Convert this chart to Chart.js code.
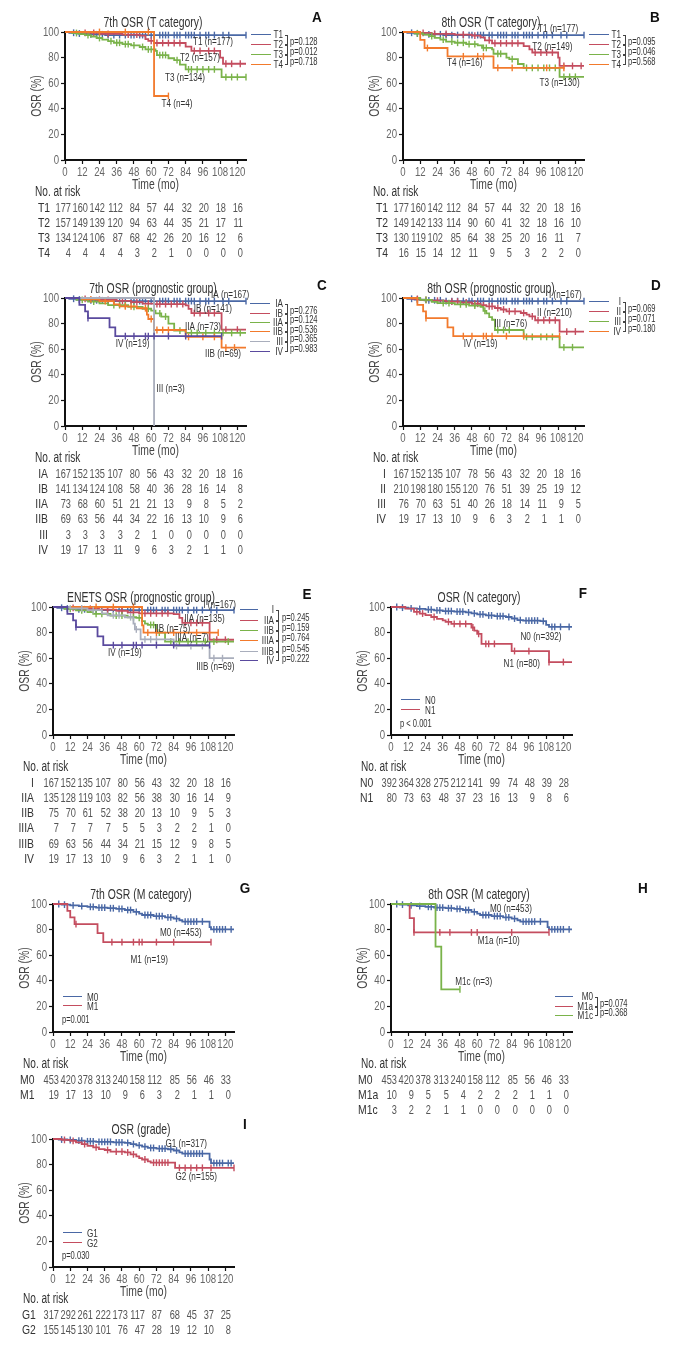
<!DOCTYPE html>
<html lang="en">
<head>
<meta charset="UTF-8" />
<title>OSR survival curves</title>
<script src="https://cdn.jsdelivr.net/npm/chart.js"></script>
<style>
  body { margin: 0; background: #fff; width: 676px; height: 1346px; position: relative; overflow: hidden;
         font-family: "Liberation Sans", Arial, sans-serif; }
  .abs { position: absolute; white-space: nowrap; line-height: 1; }
  .ttl { font-size: 14.5px; color: #333; }
  .let { font-weight: bold; font-size: 15px; color: #111; }
  .leg { font-size: 11px; color: #333; }
  .pv  { font-size: 10.5px; color: #333; }
  .num { font-size: 13px; color: #555; }
  .rl  { font-size: 13px; color: #333; }
  .nar { font-size: 14px; color: #333; }
  .ln  { position: absolute; height: 0; }
  .br  { position: absolute; border: 1px solid #444; border-left: none; width: 2px; }
</style>
</head>
<body>
<script>
const FONT = '"Liberation Sans", Arial, sans-serif';
Chart.defaults.font.family = FONT;

const BLUE = '#4a68a5', RED = '#c44d5f', GREEN = '#7ab34a', ORANGE = '#f27a2c', GREY = '#a9aebc', PURPLE = '#5a4a9e';

// time ticks (months) used on every x axis and for the at-risk columns
const MONTHS = [0, 12, 24, 36, 48, 60, 72, 84, 96, 108, 120];
const PCT = [0, 20, 40, 60, 80, 100];

// ---- A: 7th T category ----
const A_T1 = [[0,100],[3,99.4],[8,98.8],[15,98.2],[28,97.6],[126,97.6]];
const A_T1_C = [6,10,18,22,26,30,34,38,42,46,48,52,54,56,60,62,66,68,70,72,76,78,80,84,86,88,90,94,98,100,104,110,114,126];
const A_T2 = [[0,100],[12,99.3],[24,98.6],[40,97.9],[52,97.1],[56,94.5],[58,93],[62,91.4],[84,88.5],[88,85.2],[108,80],[110,75.2],[126,75.2]];
const A_T2_C = [14,20,30,44,50,60,64,68,72,76,80,90,94,100,104,112,116,122];
const A_T3 = [[0,100],[5,99.2],[10,98.4],[14,97.6],[18,96.5],[22,95.3],[26,94],[30,92.8],[34,91.6],[40,90.5],[46,89.6],[52,88.3],[56,86.4],[63,85.2],[64,82],[72,79.5],[76,78],[80,74.5],[84,70.8],[108,70.8],[109,64.8],[126,64.8]];
const A_T3_C = [8,16,24,32,36,38,42,44,48,54,58,60,66,68,70,78,86,88,92,96,100,104,112,116,120,126];
const A_T4 = [[0,100],[62,50],[72,50]];
const A_T4_C = [24,42,58,72];
const A_RISK_T1 = [177,160,142,112,84,57,44,32,20,18,16];
const A_RISK_T2 = [157,149,139,120,94,63,44,35,21,17,11];
const A_RISK_T3 = [134,124,106,87,68,42,26,20,16,12,6];
const A_RISK_T4 = [4,4,4,4,3,2,1,0,0,0,0];

// ---- B: 8th T category ----
const B_T2 = [[0,100],[10,99.3],[20,98.6],[36,97.9],[48,97.2],[54,95.8],[57,93.5],[62,91.2],[84,89],[88,86.5],[90,84],[108,80],[109,73.5],[126,73.5]];
const B_T2_C = [14,22,30,42,50,60,64,68,72,76,80,92,96,100,104,112,118,124];
const B_T3 = [[0,100],[8,99],[14,98],[18,96.8],[22,95.4],[26,94],[30,92.5],[36,91.6],[44,90.6],[52,89.5],[55,87.6],[62,86.5],[63,83],[72,80],[74,78.8],[80,75],[84,72],[108,72],[109,65],[126,65]];
const B_T3_C = [10,20,28,34,38,42,46,50,56,58,66,68,76,86,90,94,98,102,106,112,116,120];
const B_T4 = [[0,100],[12,93.8],[15,87.5],[31,81],[63,72],[112,72]];
const B_T4_C = [17,42,52,56,66,76,100,112];
const B_RISK_T2 = [149,142,133,114,90,60,41,32,18,16,10];
const B_RISK_T3 = [130,119,102,85,64,38,25,20,16,11,7];
const B_RISK_T4 = [16,15,14,12,11,9,5,3,2,2,0];

// ---- C: 7th prognostic group ----
const C_IB = [[0,100],[10,99.3],[22,98.6],[36,97.8],[46,96.8],[54,95.6],[62,95.2],[84,94.2],[86,91.5],[88,88.2],[108,88.2],[109,75.3],[126,75.3]];
const C_IB_C = [14,24,30,40,50,58,64,66,70,74,78,82,90,94,100,104,112,120];
const C_IIA = [[0,100],[8,98.6],[16,97.2],[24,95.8],[30,94.4],[44,93],[54,91.6],[60,90.2],[63,88],[67,85.5],[72,80],[76,74.5],[84,72.7],[126,72.7]];
const C_IIA_C = [12,20,34,38,42,48,58,66,70,80,88,92,98,104,110,116,122];
const C_IIB = [[0,100],[12,99],[24,97.5],[34,95],[38,93.5],[50,92],[57,87],[58,83.6],[62,75],[84,69.6],[108,69.6],[109,61.3],[126,61.3]];
const C_IIB_C = [18,28,42,46,56,60,64,68,72,86,96,104,112,118];
const C_III = [[0,100],[62,0]];
const C_IV = [[0,100],[10,94.7],[14,89.5],[16,84.2],[31,77],[35,70.2],[109,70.2]];
const C_IV_C = [16,42,48,56,58,62,72,84,109];
const C_RISK_IA = [167,152,135,107,80,56,43,32,20,18,16];
const C_RISK_IB = [141,134,124,108,58,40,36,28,16,14,8];
const C_RISK_IIA = [73,68,60,51,21,21,13,9,8,5,2];
const C_RISK_IIB = [69,63,56,44,34,22,16,13,10,9,6];
const C_RISK_III = [3,3,3,3,2,1,0,0,0,0,0];
const C_RISK_IV = [19,17,13,11,9,6,3,2,1,1,0];

// ---- D: 8th prognostic group ----
const D_II = [[0,100],[6,99.3],[12,98.6],[20,97.9],[30,97.2],[40,96.5],[48,95.5],[54,94.4],[58,93.4],[64,92.2],[68,91],[72,89.6],[82,88.3],[86,87],[88,85.7],[92,82.6],[108,82.6],[109,73.8],[126,73.8]];
const D_II_C = [10,16,24,34,38,44,50,52,56,60,62,66,70,74,78,84,90,94,98,102,106,114,120];
const D_III = [[0,100],[12,98.5],[20,97],[24,96],[36,95],[46,94],[54,93],[56,90],[58,88],[60,85],[62,83],[64,75],[84,69.6],[108,69.6],[109,61.5],[126,61.5]];
const D_III_C = [16,28,32,40,44,50,57,66,70,74,86,90,96,100,104,112,118];
const D_RISK_I = [167,152,135,107,78,56,43,32,20,18,16];
const D_RISK_II = [210,198,180,155,120,76,51,39,25,19,12];
const D_RISK_III = [76,70,63,51,40,26,18,14,11,9,5];
const D_RISK_IV = [19,17,13,10,9,6,3,2,1,1,0];

// ---- E: ENETS prognostic group ----
const E_IIA = [[0,100],[10,99.3],[20,98.6],[32,97.9],[44,96.9],[52,95.8],[60,95],[84,94.5],[88,91.5],[90,87.6],[108,87.6],[109,74.4],[126,74.4]];
const E_IIA_C = [14,26,38,48,56,64,68,72,76,80,92,96,100,104,114,120];
const E_IIB = [[0,100],[8,98.6],[16,97.3],[24,96],[28,94.7],[40,93.3],[52,92],[58,91.5],[62,89],[64,87],[66,86],[72,80],[78,73],[126,73]];
const E_IIB_C = [12,20,30,34,44,48,56,60,68,70,74,82,88,94,100,106,112,122];
const E_IIIA = [[0,100],[62,85.7],[63,80],[115,80]];
const E_IIIA_C = [30,42,56,66,72,84,100,115];
const E_IIIB = [[0,100],[12,99],[24,97.5],[34,95],[38,93.5],[50,92],[56,87],[57,82.5],[61,74.7],[84,69.5],[108,69.5],[109,60],[126,60]];
const E_IIIB_C = [20,28,42,46,54,58,64,68,72,86,96,104,112,118];
const E_RISK_I = [167,152,135,107,80,56,43,32,20,18,16];
const E_RISK_IIA = [135,128,119,103,82,56,38,30,16,14,9];
const E_RISK_IIB = [75,70,61,52,38,20,13,10,9,5,3];
const E_RISK_IIIA = [7,7,7,7,5,5,3,2,2,1,0];
const E_RISK_IIIB = [69,63,56,44,34,21,15,12,9,8,5];
const E_RISK_IV = [19,17,13,10,9,6,3,2,1,1,0];

// ---- F: N category ----
const F_N0 = [[0,100],[6,99.5],[12,99],[18,98.6],[24,98],[30,97.4],[36,96.8],[44,96.4],[52,95.8],[56,95],[60,94.3],[66,93.4],[72,92.8],[80,92.2],[84,91],[88,89.8],[92,89.4],[104,89],[108,86],[110,84.5],[126,84.5]];
const F_N0_C = [4,8,14,20,26,28,32,34,38,40,42,46,48,50,54,58,62,64,68,70,74,76,78,82,86,90,94,96,98,100,102,106,112,114,118,124];
const F_N1 = [[0,100],[10,98.7],[16,96.2],[20,94.9],[24,93.6],[28,92.2],[32,90.8],[36,89.5],[38,88.4],[42,86.8],[54,86.8],[56,84],[58,81.5],[60,79],[63,71.2],[84,65.6],[109,65.6],[110,57],[126,57]];
const F_N1_C = [18,22,30,40,44,48,52,57,61,66,68,72,86,96,110,120];
const F_RISK_N0 = [392,364,328,275,212,141,99,74,48,39,28];
const F_RISK_N1 = [80,73,63,48,37,23,16,13,9,8,6];

// ---- G / H: M category ----
const G_M0 = [[0,100],[6,99.5],[12,99],[18,98.4],[24,97.8],[30,97.2],[38,96.7],[44,96.2],[50,95.3],[56,93.8],[60,92.5],[62,91.4],[70,90.5],[78,89.6],[84,88.5],[88,87.3],[90,86.3],[108,86.3],[109,82],[110,80.2],[126,80.2]];
const G_M0_C = [4,8,14,20,26,28,32,34,36,40,42,46,48,52,54,58,64,66,68,72,74,76,80,82,86,92,94,96,98,100,104,112,114,116,118,120,124];
const G_M1 = [[0,100],[10,94.7],[12,89.5],[15,84.2],[31,77.2],[35,70.2],[110,70.2]];
const G_M1_C = [16,41,48,56,60,62,72,84,110];
const H_M1A = [[0,100],[13,88.9],[16,77.8],[110,77.8]];
const H_M1A_C = [16,34,41,56,60,84,110];
const H_M1C = [[0,100],[31,66.7],[35,33.3],[48,33.3]];
const H_M1C_C = [48];
const G_RISK_M0 = [453,420,378,313,240,158,112,85,56,46,33];
const G_RISK_M1 = [19,17,13,10,9,6,3,2,1,1,0];
const H_RISK_M1A = [10,9,5,5,4,2,2,2,1,1,0];
const H_RISK_M1C = [3,2,2,1,1,0,0,0,0,0,0];

// ---- I: grade ----
const I_G1 = [[0,100],[4,99.6],[10,99.2],[16,98.8],[22,98.2],[30,97.8],[42,97.4],[50,97],[54,96],[58,95],[62,94],[66,93],[72,92.5],[80,92],[84,91],[88,89.5],[90,88.6],[108,88.6],[109,84],[110,81.2],[126,81.2]];
const I_G1_C = [6,12,18,20,24,26,28,32,34,36,38,40,44,46,48,52,56,60,64,68,70,74,76,78,82,86,92,94,96,98,100,102,104,112,114,116,118,122,124];
const I_G2 = [[0,100],[6,99.3],[12,98.6],[16,97.3],[20,96],[24,94.7],[28,93.4],[32,92.1],[36,91.4],[40,90.1],[50,89.5],[54,88],[58,86.5],[60,85],[62,84],[66,82.5],[68,81.5],[84,81.5],[85,77.5],[126,77.5]];
const I_G2_C = [8,14,22,30,38,44,48,52,56,64,70,72,74,76,78,80,88,92,96,100,104,110,126];
const I_RISK_G1 = [317,292,261,222,173,117,87,68,45,37,25];
const I_RISK_G2 = [155,145,130,101,76,47,28,19,12,10,8];

// ---- layout ----
const XMAX = 126, PW = 181, PH = 128, PPM = PW / XMAX;
const YAX = 40, XAX = 34, PADT = 14, PADR = 10;
const SX = 0.74; // horizontal squeeze, the original uses a condensed face

const panels = [
  { left: 65, top: 32, title: '7th OSR (T category)', letter: ['A', 317, 16],
    series: [
      { c: BLUE, pts: A_T1, cens: A_T1_C }, { c: RED, pts: A_T2, cens: A_T2_C },
      { c: GREEN, pts: A_T3, cens: A_T3_C }, { c: ORANGE, pts: A_T4, cens: A_T4_C } ],
    notes: [ { x: 103, y: 92, t: 'T1 (n=177)' }, { x: 94, y: 80, t: 'T2 (n=157)' },
             { x: 83.5, y: 64, t: 'T3 (n=134)' }, { x: 78, y: 44, t: 'T4 (n=4)' } ],
    legend: { kind: 'side', x1: 251, x2: 271, lr: 283, br: 285, px: 290, ys: [35, 45, 55, 65],
              names: ['T1', 'T2', 'T3', 'T4'], p: ['p=0.128', 'p=0.012', 'p=0.718'] },
    risk: { nar: 35, lx: 38, la: 'left', rows: [['T1', A_RISK_T1], ['T2', A_RISK_T2], ['T3', A_RISK_T3], ['T4', A_RISK_T4]] } },

  { left: 403, top: 32, title: '8th OSR (T category)', letter: ['B', 655, 16],
    series: [
      { c: BLUE, pts: A_T1, cens: A_T1_C }, { c: RED, pts: B_T2, cens: B_T2_C },
      { c: GREEN, pts: B_T3, cens: B_T3_C }, { c: ORANGE, pts: B_T4, cens: B_T4_C } ],
    notes: [ { x: 108, y: 102.6, t: 'T1 (n=177)' }, { x: 104, y: 88, t: 'T2 (n=149)' },
             { x: 43, y: 76, t: 'T4 (n=16)' }, { x: 109, y: 60, t: 'T3 (n=130)' } ],
    legend: { kind: 'side', x1: 589, x2: 609, lr: 621, br: 623, px: 628, ys: [35, 45, 55, 65],
              names: ['T1', 'T2', 'T3', 'T4'], p: ['p=0.095', 'p=0.046', 'p=0.568'] },
    risk: { nar: 373, lx: 376, la: 'left', rows: [['T1', A_RISK_T1], ['T2', B_RISK_T2], ['T3', B_RISK_T3], ['T4', B_RISK_T4]] } },

  { left: 65, top: 298, title: '7th OSR (prognostic group)', letter: ['C', 322, 284],
    series: [
      { c: BLUE, pts: A_T1, cens: A_T1_C }, { c: RED, pts: C_IB, cens: C_IB_C },
      { c: GREEN, pts: C_IIA, cens: C_IIA_C }, { c: ORANGE, pts: C_IIB, cens: C_IIB_C },
      { c: GREY, pts: C_III, cens: [] }, { c: PURPLE, pts: C_IV, cens: C_IV_C } ],
    notes: [ { x: 115, y: 102.6, t: 'IA (n=167)' }, { x: 103, y: 91.7, t: 'IB (n=141)' },
             { x: 96, y: 77, t: 'IIA (n=73)' }, { x: 47, y: 64, t: 'IV (n=19)' },
             { x: 110, y: 56, t: 'IIB (n=69)' }, { x: 73.5, y: 29, t: 'III (n=3)' } ],
    legend: { kind: 'side', x1: 250, x2: 270, lr: 283, br: 285, px: 290, ys: [304, 313.5, 323, 332, 342, 352],
              names: ['IA', 'IB', 'IIA', 'IIB', 'III', 'IV'], p: ['p=0.276', 'p=0.124', 'p=0.536', 'p=0.365', 'p=0.983'] },
    risk: { nar: 35, lx: 48, la: 'right', rows: [['IA', C_RISK_IA], ['IB', C_RISK_IB], ['IIA', C_RISK_IIA], ['IIB', C_RISK_IIB], ['III', C_RISK_III], ['IV', C_RISK_IV]] } },

  { left: 403, top: 298, title: '8th OSR (prognostic group)', letter: ['D', 656, 284],
    series: [
      { c: BLUE, pts: A_T1, cens: A_T1_C }, { c: RED, pts: D_II, cens: D_II_C },
      { c: GREEN, pts: D_III, cens: D_III_C }, { c: ORANGE, pts: C_IV, cens: C_IV_C } ],
    notes: [ { x: 113, y: 102.6, t: 'I (n=167)' }, { x: 105.5, y: 88, t: 'II (n=210)' },
             { x: 75, y: 80, t: 'III (n=76)' }, { x: 54, y: 64, t: 'IV (n=19)' } ],
    legend: { kind: 'side', x1: 589, x2: 609, lr: 621, br: 623, px: 628, ys: [302, 312, 322, 332],
              names: ['I', 'II', 'III', 'IV'], p: ['p=0.069', 'p=0.071', 'p=0.180'] },
    risk: { nar: 373, lx: 386, la: 'right', rows: [['I', D_RISK_I], ['II', D_RISK_II], ['III', D_RISK_III], ['IV', D_RISK_IV]] } },

  { left: 53, top: 607, title: 'ENETS OSR (prognostic group)', letter: ['E', 307, 593],
    series: [
      { c: BLUE, pts: A_T1, cens: A_T1_C }, { c: RED, pts: E_IIA, cens: E_IIA_C },
      { c: GREEN, pts: E_IIB, cens: E_IIB_C }, { c: ORANGE, pts: E_IIIA, cens: E_IIIA_C },
      { c: GREY, pts: E_IIIB, cens: E_IIIB_C }, { c: PURPLE, pts: C_IV, cens: C_IV_C } ],
    notes: [ { x: 116, y: 101.3, t: 'I (n=167)' }, { x: 105.5, y: 91, t: 'IIA (n=135)' },
             { x: 83, y: 83, t: 'IIB (n=75)' }, { x: 96.7, y: 76, t: 'IIIA (n=7)' },
             { x: 50, y: 64.3, t: 'IV (n=19)' }, { x: 113, y: 53.5, t: 'IIIB (n=69)' } ],
    legend: { kind: 'side', x1: 240, x2: 258, lr: 274, br: 276, px: 282, ys: [610, 621, 631, 641, 652, 661],
              names: ['I', 'IIA', 'IIB', 'IIIA', 'IIIB', 'IV'], p: ['p=0.245', 'p=0.159', 'p=0.764', 'p=0.545', 'p=0.222'] },
    risk: { nar: 23, lx: 34, la: 'right', rows: [['I', E_RISK_I], ['IIA', E_RISK_IIA], ['IIB', E_RISK_IIB], ['IIIA', E_RISK_IIIA], ['IIIB', E_RISK_IIIB], ['IV', E_RISK_IV]] } },

  { left: 391, top: 607, title: 'OSR (N category)', letter: ['F', 583, 592],
    series: [ { c: BLUE, pts: F_N0, cens: F_N0_C }, { c: RED, pts: F_N1, cens: F_N1_C } ],
    notes: [ { x: 104.4, y: 76.7, t: 'N0 (n=392)' }, { x: 91, y: 55.6, t: 'N1 (n=80)' } ],
    legend: { kind: 'in', x1: 401, x2: 420, lx: 425, ys: [700, 710], names: ['N0', 'N1'], p: 'p < 0.001', pxy: [400, 723] },
    risk: { nar: 361, lx: 360, la: 'left', rows: [['N0', F_RISK_N0], ['N1', F_RISK_N1]] } },

  { left: 53, top: 904, title: '7th OSR (M category)', letter: ['G', 245, 887],
    series: [ { c: BLUE, pts: G_M0, cens: G_M0_C }, { c: RED, pts: G_M1, cens: G_M1_C } ],
    notes: [ { x: 89, y: 77.7, t: 'M0 (n=453)' }, { x: 67, y: 56.4, t: 'M1 (n=19)' } ],
    legend: { kind: 'in', x1: 63, x2: 82, lx: 87, ys: [997, 1006], names: ['M0', 'M1'], p: 'p=0.001', pxy: [62, 1019] },
    risk: { nar: 23, lx: 20, la: 'left', rows: [['M0', G_RISK_M0], ['M1', G_RISK_M1]] } },

  { left: 391, top: 904, title: '8th OSR (M category)', letter: ['H', 643, 887],
    series: [ { c: BLUE, pts: G_M0, cens: G_M0_C }, { c: RED, pts: H_M1A, cens: H_M1A_C }, { c: GREEN, pts: H_M1C, cens: H_M1C_C } ],
    notes: [ { x: 83.5, y: 95.8, t: 'M0 (n=453)' }, { x: 75, y: 71.4, t: 'M1a (n=10)' }, { x: 57.6, y: 38.7, t: 'M1c (n=3)' } ],
    legend: { kind: 'side', x1: 555, x2: 573, lr: 593, br: 595, px: 600, ys: [997, 1006.5, 1016],
              names: ['M0', 'M1a', 'M1c'], p: ['p=0.074', 'p=0.368'] },
    risk: { nar: 361, lx: 358, la: 'left', rows: [['M0', G_RISK_M0], ['M1a', H_RISK_M1A], ['M1c', H_RISK_M1C]] } },

  { left: 53, top: 1139, title: 'OSR (grade)', letter: ['I', 245, 1123],
    series: [ { c: BLUE, pts: I_G1, cens: I_G1_C }, { c: RED, pts: I_G2, cens: I_G2_C } ],
    notes: [ { x: 92.7, y: 96, t: 'G1 (n=317)' }, { x: 99.7, y: 70.5, t: 'G2 (n=155)' } ],
    legend: { kind: 'in', x1: 63, x2: 82, lx: 87, ys: [1233, 1243], names: ['G1', 'G2'], p: 'p=0.030', pxy: [62, 1255] },
    risk: { nar: 23, lx: 22, la: 'left', rows: [['G1', I_RISK_G1], ['G2', I_RISK_G2]] } }
];

// html text, vertically centred on y, squeezed sideways around its anchor
function txt(x, y, s, cls, align, sx) {
  const d = document.createElement('div');
  d.className = 'abs ' + cls;
  d.textContent = s;
  d.style.left = x + 'px';
  d.style.top = y + 'px';
  const tx = align === 'right' ? '-100%' : align === 'center' ? '-50%' : '0';
  const ox = align === 'right' ? '100%' : align === 'center' ? '50%' : '0';
  d.style.transformOrigin = ox + ' 50%';
  d.style.transform = 'translate(' + tx + ', -50%) scaleX(' + (sx || SX) + ')';
  document.body.appendChild(d);
}

function hline(x1, x2, y, color) {
  const d = document.createElement('div');
  d.className = 'ln';
  d.style.cssText += 'left:' + x1 + 'px;width:' + (x2 - x1) + 'px;top:' + (y - 1) + 'px;border-top:1.8px solid ' + color;
  document.body.appendChild(d);
}

// canvas text with the same sideways squeeze
function ctext(ctx, s, x, y, align, size, color, rot) {
  ctx.save();
  ctx.font = size + 'px ' + FONT;
  ctx.fillStyle = color;
  ctx.textAlign = align;
  ctx.textBaseline = 'middle';
  ctx.translate(x, y);
  if (rot) ctx.rotate(rot);
  ctx.scale(SX, 1);
  ctx.fillText(s, 0, 0);
  ctx.restore();
}

// survival value of a step curve at time t
function survAt(pts, t) {
  let s = pts[0][1];
  for (const [x, y] of pts) if (x <= t) s = y;
  return s;
}

function drawPanel(p) {
  const cw = YAX + PW + PADR, ch = PADT + PH + XAX;
  const cv = document.createElement('canvas');
  cv.width = cw; cv.height = ch;
  cv.style.cssText = 'position:absolute;left:' + (p.left - YAX) + 'px;top:' + (p.top - PADT) + 'px;width:' + cw + 'px;height:' + ch + 'px';
  document.body.appendChild(cv);

  const datasets = [];
  p.series.forEach((s, i) => {
    datasets.push({
      data: s.pts.map(([x, y]) => ({ x, y })),
      borderColor: s.c, borderWidth: 1.8, stepped: true, fill: false,
      pointRadius: 0, pointHitRadius: 0, order: -2 * i, clip: 6
    });
    if (s.cens.length) datasets.push({
      data: s.cens.map(t => ({ x: t, y: survAt(s.pts, t) })),
      showLine: false, pointStyle: 'line', pointRotation: 90, pointRadius: 3.4,
      pointBorderWidth: 1.4, pointBorderColor: s.c, pointBackgroundColor: s.c,
      order: -2 * i - 1, clip: 6
    });
  });

  // tick labels, axis titles and curve labels, placed from the chart scales
  const labels = {
    id: 'labels',
    afterDraw(chart) {
      const { ctx, scales: { x, y }, chartArea: a } = chart;
      MONTHS.forEach(m => ctext(ctx, String(m), x.getPixelForValue(m), a.bottom + 12.5, 'center', 13, '#666'));
      PCT.forEach(v => ctext(ctx, String(v), a.left - 6, y.getPixelForValue(v), 'right', 13, '#666'));
      ctext(ctx, 'Time (mo)', (a.left + a.right) / 2, a.bottom + 25, 'center', 14, '#444');
      ctext(ctx, 'OSR (%)', a.left - 28, (a.top + a.bottom) / 2, 'center', 14, '#444', -Math.PI / 2);
      p.notes.forEach(n => ctext(ctx, n.t, x.getPixelForValue(n.x), y.getPixelForValue(n.y), 'center', 11, '#333'));
    }
  };

  const fitY = s => { s.width = YAX; s.paddingTop = 0; s.paddingBottom = 0; };
  const fitX = s => { s.height = XAX; s.paddingLeft = 0; s.paddingRight = 0; };
  const grid = { drawOnChartArea: false, tickLength: 4, tickColor: '#111', tickWidth: 1.2 };

  new Chart(cv.getContext('2d'), {
    type: 'line',
    data: { datasets },
    plugins: [labels],
    options: {
      responsive: false,
      animation: false,
      layout: { padding: { top: PADT, right: PADR, left: 0, bottom: 0 } },
      plugins: { legend: { display: false }, tooltip: { enabled: false } },
      scales: {
        x: {
          type: 'linear', min: 0, max: XMAX,
          afterBuildTicks: s => { s.ticks = MONTHS.map(v => ({ value: v })); },
          afterFit: fitX,
          ticks: { display: false },
          grid, border: { color: '#111', width: 2 }
        },
        y: {
          min: 0, max: 100,
          afterBuildTicks: s => { s.ticks = PCT.map(v => ({ value: v })); },
          afterFit: fitY,
          ticks: { display: false },
          grid, border: { color: '#111', width: 2 }
        }
      }
    }
  });

  // title and panel letter
  txt(p.left + 88, p.top - 10, p.title, 'ttl', 'center', 0.72);
  txt(p.letter[1], p.letter[2], p.letter[0], 'let', 'center', 0.9);

  // legend
  const lg = p.legend;
  if (lg.kind === 'side') {
    lg.ys.forEach((y, i) => {
      hline(lg.x1, lg.x2, y, p.series[i].c);
      txt(lg.lr, y - 1, lg.names[i], 'leg', 'right');
    });
    lg.p.forEach((pv, i) => {
      const y1 = lg.ys[i], y2 = lg.ys[i + 1];
      const b = document.createElement('div');
      b.className = 'br';
      b.style.left = lg.br + 'px';
      b.style.top = y1 + 'px';
      b.style.height = (y2 - y1 - 2) + 'px';
      document.body.appendChild(b);
      txt(lg.px, (y1 + y2) / 2 + 1, pv, 'pv', 'left', 0.72);
    });
  } else {
    lg.ys.forEach((y, i) => {
      hline(lg.x1, lg.x2, y, p.series[i].c);
      txt(lg.lx, y, lg.names[i], 'leg', 'left');
    });
    txt(lg.pxy[0], lg.pxy[1], lg.p, 'pv', 'left', 0.72);
  }

  // number at risk
  const base = p.top + PH;
  txt(p.risk.nar, base + 31, 'No. at risk', 'nar', 'left', 0.72);
  p.risk.rows.forEach(([name, vals], r) => {
    const y = base + 46.5 + r * 15.3;
    txt(p.risk.lx, y, name, 'rl', p.risk.la, 0.8);
    vals.forEach((v, k) => txt(p.left + MONTHS[k] * PPM + 6, y, String(v), 'num', 'right', 0.71));
  });
}

panels.forEach(drawPanel);
</script>
</body>
</html>
